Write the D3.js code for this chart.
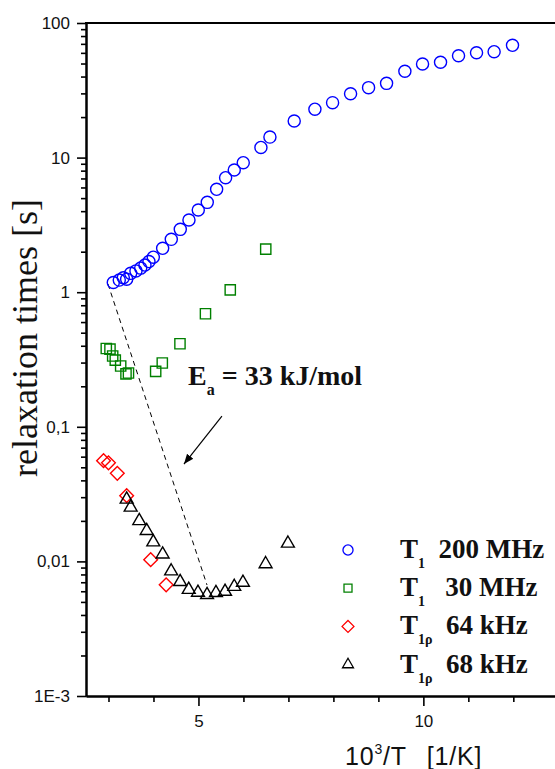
<!DOCTYPE html>
<html>
<head>
<meta charset="utf-8">
<script src="https://cdn.jsdelivr.net/npm/d3@7"></script>
<style>
  html, body { margin: 0; padding: 0; background: #fff; }
  svg { display: block; }
</style>
</head>
<body>
<svg id="chart" width="555" height="769"></svg>
<script>
// T1 at 200 MHz (circles): 10^3/T [1/K] and relaxation time [s]
const t1_200_x = [3.107, 3.24, 3.329, 3.404, 3.493, 3.611, 3.716, 3.811, 3.9, 3.996,
  4.204, 4.396, 4.596, 4.789, 4.996, 5.196, 5.404, 5.604, 5.796, 5.996,
  6.389, 6.589, 7.129, 7.589, 7.982, 8.382, 8.782, 9.182, 9.589, 9.982,
  10.382, 10.782, 11.182, 11.573, 11.982];
const t1_200_y = [1.18, 1.23, 1.28, 1.25, 1.38, 1.44, 1.51, 1.59, 1.69, 1.82,
  2.12, 2.47, 2.93, 3.44, 4.08, 4.65, 5.81, 7.09, 8.09, 9.17,
  11.9, 14.2, 18.7, 22.9, 25.6, 29.8, 33.1, 35.6, 43.8, 49.6,
  51.1, 57.1, 60.1, 61.2, 68.3];

// T1 at 30 MHz (squares)
const t1_30_x = [2.951, 3.033, 3.093, 3.151, 3.271, 3.389, 3.444, 4.049, 4.196, 4.589, 5.156, 5.707, 6.496];
const t1_30_y = [0.382, 0.378, 0.336, 0.313, 0.283, 0.247, 0.251, 0.258, 0.298, 0.414, 0.692, 1.04, 2.09];

// T1rho at 64 kHz (diamonds)
const t1r_64_x = [2.89, 3.0, 3.196, 3.404, 3.938, 4.282];
const t1r_64_y = [0.056, 0.054, 0.0451, 0.0308, 0.0103, 0.0067];

// T1rho at 68 kHz (triangles)
const t1r_68_x = [3.404, 3.493, 3.684, 3.849, 3.996, 4.204, 4.393, 4.593, 4.784, 4.989,
  5.191, 5.389, 5.591, 5.796, 5.989, 6.493, 6.989];
const t1r_68_y = [0.0289, 0.0252, 0.0200, 0.0169, 0.0139, 0.0113, 0.00846, 0.00705, 0.00617, 0.00587,
  0.00565, 0.00585, 0.00597, 0.00649, 0.00697, 0.00957, 0.0136];

// Axis ticks
const yMajorTicks = [1e-3, 1e-2, 1e-1, 1, 10, 100];
const yTickLabels = ["1E-3", "0,01", "0,1", "1", "10", "100"];
const xMajorTicks = [5, 10];
const xTickLabels = ["5", "10"];
const xMinorTicks = [3, 4, 6, 7, 8, 9, 11, 12];

// Legend entries
const legendSubs = ["1", "1", "1\u03C1", "1\u03C1"];
const legendValues = ["  200 MHz", "   30 MHz", "  64 kHz", "  68 kHz"];

// Activation-energy guide line and arrow (data coordinates)
const guideX = [2.989, 5.19];
const guideY = [1.15, 0.00668];
const arrowX = [5.522, 4.678];
const arrowY = [0.1202, 0.0529];

const svg = d3.select("#chart");
const plotLeft = 86, plotTop = 23, plotBottom = 696;

const x = d3.scaleLinear().domain([2.5, 13]).range([plotLeft, 558.3]);
const y = d3.scaleLog().domain([1e-3, 100]).range([plotBottom, plotTop]);

const sans = "'Liberation Sans', Arial, sans-serif";
const serif = "'Liberation Serif', 'Times New Roman', serif";

// minor y ticks 2..9 in each decade
const yMinorTicks = [];
for (let e = -3; e < 2; e++) for (let k = 2; k <= 9; k++) yMinorTicks.push(k * Math.pow(10, e));

// Y axis
const yMinor = svg.append("g").attr("transform", `translate(${plotLeft},0)`)
  .call(d3.axisLeft(y).tickValues(yMinorTicks).tickSize(5).tickSizeOuter(0).tickFormat(""));
const yMajor = svg.append("g").attr("transform", `translate(${plotLeft},0)`)
  .call(d3.axisLeft(y).tickValues(yMajorTicks).tickSize(9).tickPadding(7).tickSizeOuter(0)
    .tickFormat((d, i) => yTickLabels[i]));

// X axis
const xMinor = svg.append("g").attr("transform", `translate(0,${plotBottom})`)
  .call(d3.axisBottom(x).tickValues(xMinorTicks).tickSize(6).tickSizeOuter(0).tickFormat(""));
const xMajor = svg.append("g").attr("transform", `translate(0,${plotBottom})`)
  .call(d3.axisBottom(x).tickValues(xMajorTicks).tickSize(10).tickPadding(9).tickSizeOuter(0)
    .tickFormat((d, i) => xTickLabels[i]));

[yMinor, yMajor, xMinor, xMajor].forEach(g => {
  g.selectAll("path.domain").attr("stroke", "#000").attr("stroke-width", 2);
  g.selectAll(".tick line").attr("stroke", "#000").attr("stroke-width", 1.6);
  g.selectAll(".tick text").attr("font-family", sans).attr("font-size", 17).attr("fill", "#111");
});

// top frame line
svg.append("line")
  .attr("x1", x(2.5) - 1).attr("x2", x(13)).attr("y1", y(100)).attr("y2", y(100))
  .attr("stroke", "#000").attr("stroke-width", 2);

// axis titles
svg.append("text")
  .attr("transform", "translate(37,338) rotate(-90)")
  .attr("text-anchor", "middle")
  .attr("font-family", serif).attr("font-size", 36).attr("fill", "#111")
  .text("relaxation times [s]");

const xt = svg.append("text")
  .attr("x", 345).attr("y", 765)
  .attr("font-family", sans).attr("font-size", 25).attr("fill", "#111")
  .attr("letter-spacing", 0.8);
xt.append("tspan").text("10");
xt.append("tspan").attr("font-size", 14).attr("dy", -11).text("3");
xt.append("tspan").attr("dy", 11).text("/T");
xt.append("tspan").attr("dx", 20).text("[1/K]");

// guide line for the activation energy
svg.append("line")
  .attr("x1", x(guideX[0])).attr("y1", y(guideY[0]))
  .attr("x2", x(guideX[1])).attr("y2", y(guideY[1]))
  .attr("stroke", "#000").attr("stroke-width", 1).attr("stroke-dasharray", "5,4");

// arrow
svg.append("defs").append("marker")
  .attr("id", "arrowhead").attr("viewBox", "0 0 10 10")
  .attr("refX", 10).attr("refY", 5)
  .attr("markerWidth", 10).attr("markerHeight", 10)
  .attr("markerUnits", "userSpaceOnUse")
  .attr("orient", "auto")
  .append("path").attr("d", "M0,1 L10,5 L0,9 Z").attr("fill", "#000");
svg.append("line")
  .attr("x1", x(arrowX[0])).attr("y1", y(arrowY[0]))
  .attr("x2", x(arrowX[1])).attr("y2", y(arrowY[1]))
  .attr("stroke", "#000").attr("stroke-width", 1.2)
  .attr("marker-end", "url(#arrowhead)");

// Ea label
const ea = svg.append("text")
  .attr("x", 188).attr("y", 385)
  .attr("font-family", serif).attr("font-weight", "bold").attr("font-size", 28).attr("fill", "#111")
  .attr("xml:space", "preserve");
ea.append("tspan").text("E");
ea.append("tspan").attr("font-size", 16).attr("dy", 10).text("a");
ea.append("tspan").attr("dy", -10).text(" = 33 kJ/mol");

// marker shapes
function diamondPath(size) {
  const h = Math.sqrt(size) / Math.SQRT2 * 1.05;
  return `M0,${-h}L${h},0L0,${h}L${-h},0Z`;
}
function markerPath(kind, size) {
  if (kind === "diamond") return diamondPath(size);
  const types = { circle: d3.symbolCircle, square: d3.symbolSquare, triangle: d3.symbolTriangle };
  return d3.symbol().type(types[kind]).size(size)();
}

// data series
const series = [
  { xs: t1_200_x, ys: t1_200_y, kind: "circle", size: 115, color: "#0000ff", lsize: 80 },
  { xs: t1_30_x, ys: t1_30_y, kind: "square", size: 105, color: "#008000", lsize: 64 },
  { xs: t1r_64_x, ys: t1r_64_y, kind: "diamond", size: 85, color: "#ff0000", lsize: 64 },
  { xs: t1r_68_x, ys: t1r_68_y, kind: "triangle", size: 72, color: "#000000", lsize: 52 }
];

series.forEach(s => {
  const pts = s.xs.map((v, i) => [v, s.ys[i]]);
  svg.append("g").selectAll("path").data(pts).join("path")
    .attr("transform", d => `translate(${x(d[0])},${y(d[1])})`)
    .attr("d", markerPath(s.kind, s.size))
    .attr("fill", "none").attr("stroke", s.color).attr("stroke-width", 1.4);
});

// legend
const legY0 = 550, legStep = 38.2;
series.forEach((s, i) => {
  const cy = legY0 + i * legStep;
  svg.append("path")
    .attr("transform", `translate(348,${cy})`)
    .attr("d", markerPath(s.kind, s.lsize))
    .attr("fill", "none").attr("stroke", s.color).attr("stroke-width", 1.3);
  const t = svg.append("text")
    .attr("x", 400).attr("y", cy + 8)
    .attr("font-family", serif).attr("font-weight", "bold").attr("font-size", 27).attr("fill", "#111")
    .attr("xml:space", "preserve");
  t.append("tspan").text("T");
  t.append("tspan").attr("font-size", 14).attr("dy", 10).text(legendSubs[i]);
  t.append("tspan").attr("dy", -10).text(legendValues[i]);
});
</script>
</body>
</html>
